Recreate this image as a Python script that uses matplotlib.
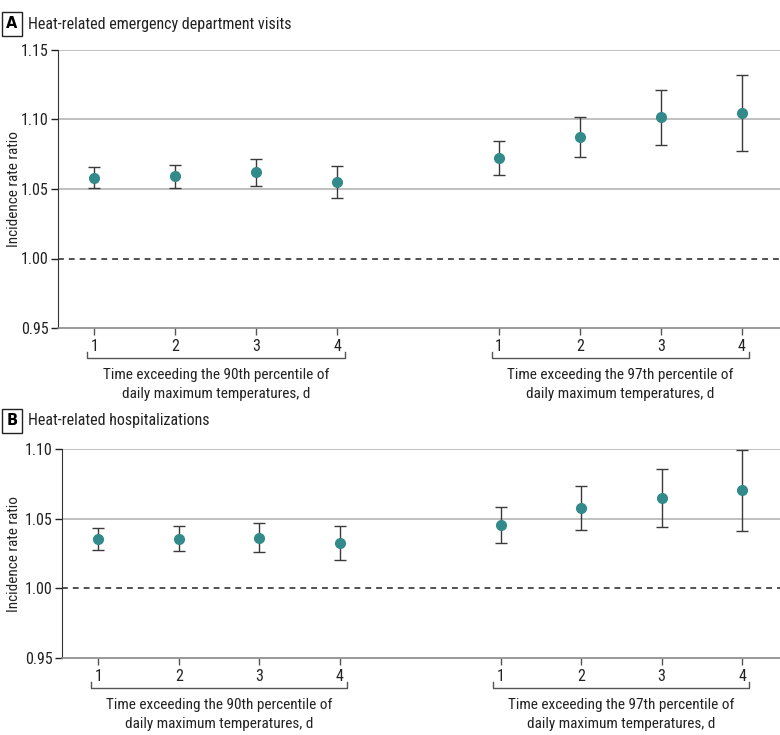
import matplotlib
matplotlib.use("Agg")
import matplotlib.pyplot as plt
import matplotlib.transforms as mtransforms
import numpy as np

plt.rcParams['font.family'] = ['Roboto Condensed', 'DejaVu Sans']

# data
days = ["1", "2", "3", "4", "1", "2", "3", "4"]
positions = [0, 1, 2, 3, 5, 6, 7, 8]
group_labels = ["Time exceeding the 90th percentile of\ndaily maximum temperatures, d",
                "Time exceeding the 97th percentile of\ndaily maximum temperatures, d"]

ed_irr = [1.058, 1.059, 1.062, 1.055, 1.072, 1.0875, 1.1015, 1.105]
ed_lo = [1.0507, 1.0507, 1.0522, 1.0437, 1.0601, 1.0728, 1.0815, 1.0774]
ed_hi = [1.0658, 1.0676, 1.0716, 1.0665, 1.0843, 1.1019, 1.1214, 1.1323]

hosp_irr = [1.0357, 1.0357, 1.0364, 1.0325, 1.0452, 1.0576, 1.0649, 1.0706]
hosp_lo = [1.0275, 1.0271, 1.0263, 1.0203, 1.0325, 1.0421, 1.0440, 1.0412]
hosp_hi = [1.0433, 1.0447, 1.0466, 1.0450, 1.0583, 1.0732, 1.0860, 1.0996]

teal = "#338a8a"
dark = "#3a3a3a"
grid = "#b5b5b5"

fig = plt.figure(figsize=(7.8, 7.35), dpi=100)
W, H = 780, 735


def panel(rect_px, letter, title, irr, lo, hi, yticks, title_y):
    x0, y0, x1, y1 = rect_px
    ax = fig.add_axes([x0 / W, 1 - y1 / H, (x1 - x0) / W, (y1 - y0) / H])
    irr = np.array(irr)
    yerr = [irr - np.array(lo), np.array(hi) - irr]
    ax.set_ylim(yticks[0], yticks[-1])
    ax.set_xlim(-0.45, 8.47)
    for t in yticks[1:]:
        if abs(t - 1.0) < 1e-9:
            ax.axhline(t, color="#333333", lw=1.2, ls=(0, (3.5, 3)), zorder=1)
        else:
            ax.axhline(t, color=grid, lw=1.2, zorder=1)
    ax.errorbar(positions, irr, yerr=yerr, fmt="o", color=teal, ms=7,
                ecolor=dark, elinewidth=1, capsize=4, capthick=1, zorder=3)
    ax.set_yticks(yticks)
    ax.set_yticklabels(["%.2f" % t for t in yticks])
    ax.set_xticks(positions)
    ax.set_xticklabels(days)
    ax.tick_params(axis="both", labelsize=11.5, colors="#222222", length=5,
                   width=1, pad=1.5)
    ax.tick_params(axis="x", colors="#555555", labelcolor="#222222", pad=3)
    for s in ["top", "right"]:
        ax.spines[s].set_visible(False)
    ax.spines["left"].set_color("#333333")
    ax.spines["bottom"].set_color("#888888")
    ax.spines["bottom"].set_linewidth(1.2)
    ax.set_ylabel("Incidence rate ratio", fontsize=11, color="#222222")
    ax.yaxis.set_label_coords((21 - x0) / (x1 - x0), 0.5)

    # brackets under each group
    ah = (y1 - y0)
    tr = mtransforms.blended_transform_factory(ax.transData, ax.transAxes)
    yb = -30 / ah
    for g in range(2):
        xs = positions[g * 4:(g + 1) * 4]
        xa, xb = xs[0] - 0.09, xs[-1] + 0.09
        ax.plot([xa, xa, xb, xb], [yb + 6 / ah, yb, yb, yb + 6 / ah],
                color="#555555", lw=1, transform=tr, clip_on=False)
        ax.text((xs[0] + xs[-1]) / 2, yb - 10 / ah, group_labels[g],
                transform=tr, ha="center", va="top", fontsize=11,
                color="#222222", linespacing=1.45)

    fig.text(12 / W, 1 - title_y / H, letter, fontsize=10.5, fontweight="bold",
             ha="center", va="center", family=["DejaVu Sans"],
             bbox=dict(boxstyle="square,pad=0.3", fc="white", ec="#222222",
                       lw=1))
    fig.text(28 / W, 1 - title_y / H, title, fontsize=11.5, ha="left",
             va="center", color="#222222")
    return ax


panel((58, 50, 780, 328), "A", "Heat-related emergency department visits",
      ed_irr, ed_lo, ed_hi, [0.95, 1.00, 1.05, 1.10, 1.15], 24)
panel((62, 449, 780, 658), "B", "Heat-related hospitalizations",
      hosp_irr, hosp_lo, hosp_hi, [0.95, 1.00, 1.05, 1.10], 421)

fig.savefig("out.png", dpi=100)
